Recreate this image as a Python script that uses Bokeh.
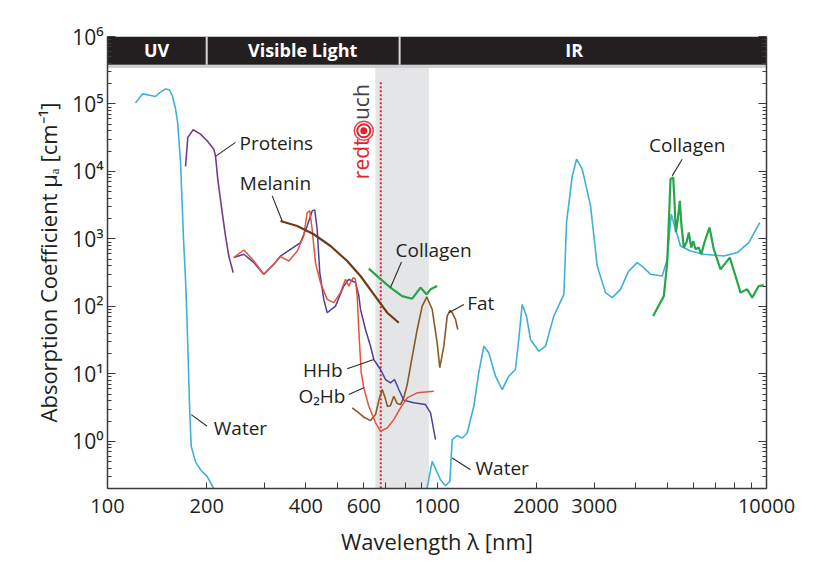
import math
from bokeh.plotting import figure
from bokeh.models import Range1d, FixedTicker, LogAxis, NumeralTickFormatter, CustomJSTickFormatter
from bokeh.embed import file_html
from bokeh.resources import INLINE
from bokeh.core.properties import value

FONT = "Open Sans"
INK = "#231f20"

# ---------------- data (wavelength nm, absorption coefficient cm^-1) ----------------
water_uv_nm = [121.6, 124.2, 127.7, 133.2, 139.8, 144.8, 150.0, 154.3, 157.5, 160.9, 163.2, 166.6,
               170.1, 172.5, 174.3, 176.5, 177.7, 179.5, 184.9, 191.5, 200.6, 211.2]
water_uv_mua = [1.03e5, 1.18e5, 1.41e5, 1.36e5, 1.29e5, 1.50e5, 1.67e5, 1.61e5, 1.31e5, 8.41e4, 5.40e4, 1.37e4,
                988, 252, 64.1, 8.24, 2.67, 0.843, 0.50, 0.38, 0.302, 0.19]

water_ir_nm = [925, 934, 967, 1025, 1061, 1094, 1112, 1152, 1193, 1235, 1293, 1339, 1387, 1436, 1505, 1577,
               1651, 1730, 1771, 1813, 1869, 1922, 2037, 2135, 2262, 2427, 2473, 2573, 2652, 2759, 2924, 3064,
               3246, 3402, 3605, 3812, 4051, 4233, 4445, 4825, 4997, 5138, 5295, 5483, 5881, 6453, 7421, 8150,
               8837, 9539]
water_ir_mua = [0.15, 0.21, 0.505, 0.27, 0.22, 0.255, 1.06, 1.215, 1.12, 1.33, 3.31, 10.4, 25.7, 20.5, 9.23, 5.86,
                9.23, 11.6, 32.4, 107, 71.8, 32.4, 21.7, 25.7, 71.8, 151, 1767, 8603, 1.52e4, 1.08e4, 3085, 396,
                160, 135, 179, 331, 446, 379, 299, 282, 499, 2323, 1391, 786, 662, 592, 558, 627,
                883, 1749]

proteins_nm = [172.5, 175.3, 182.0, 191.5, 200.6, 210.2, 212.7, 216.1, 222.9, 228.1, 233.4, 240.7]
proteins_mua = [1.19e4, 3.20e4, 4.15e4, 3.58e4, 2.85e4, 2.14e4, 1.70e4, 7690, 2460, 1110, 558, 317]

melanin_nm = [335, 376.5, 422.7, 475.1, 533.8, 585.9, 643.1, 706.2, 765.7]
melanin_mua = [1847, 1556, 1172, 786, 471, 282, 151, 80.6, 57.3]

hhb_nm = [241.7, 259.3, 278.0, 298.1, 319.6, 335, 359.3, 385.2, 403.6, 418.0, 425.6, 432.9, 440.8, 453.3,
          464.2, 491.9, 521.3, 539.9, 552.8, 565.7, 578.9, 585.9, 606.7, 628.4, 643.1, 674.0, 697.9, 722.5,
          743.1, 765.7, 793.0, 850.4, 922.7, 956, 989.6]
hhb_mua = [529, 592, 446, 299, 420, 558, 702, 883, 1556, 2600, 2691, 1391, 317, 127,
           80.6, 101, 200, 252, 238, 225, 146, 90.3, 45.5, 25.7, 16.3, 11.6, 8.24, 7.36,
           8.24, 5.86, 4.06, 3.72, 3.51, 2.64, 1.06]

o2hb_nm = [241.7, 259.3, 278.0, 298.1, 319.6, 335, 355.1, 376.5, 394.2, 403.6, 411.0, 418.0, 427.7, 442.9,
           464.2, 486.1, 509.5, 527.6, 539.9, 556.8, 565.7, 572.5, 578.9, 588.8, 599.6, 621, 650.8, 674.0,
           706.2, 739.4, 774.9, 812.1, 870.8, 977.9]
o2hb_mua = [529, 685, 471, 299, 420, 547, 471, 662, 1106, 2462, 2600, 1391, 446, 225,
            127, 113.5, 160, 252, 200, 267, 252, 142, 45.5, 10.5, 6.21, 3.31, 1.88, 1.41,
            1.58, 2.10, 3.13, 4.41, 5.23, 5.53]

collagen_vis_nm = [621, 666, 722.5, 784, 841, 891, 929, 956, 1001]
collagen_vis_mua = [363, 267, 190, 142, 130, 190, 151, 179, 200]

collagen_ir_nm = [4530, 4879, 4997, 5113, 5211, 5258, 5306, 5381, 5456, 5521, 5611, 5718, 5811, 5909, 5992,
                  6089, 6231, 6337, 6484, 6714, 6919, 7252, 7738, 8053, 8339, 8739, 9050, 9472, 9813]
collagen_ir_mua = [71.8, 142, 446, 7686, 8147, 3499, 1255, 1957, 3660, 1556, 744, 892, 1243, 744, 932,
                   702, 744, 592, 892, 1474, 702, 354, 529, 282, 160, 179, 135, 200, 207]

fat_nm = [552.8, 577.7, 602.5, 628.4, 650.8, 666.9, 682.0, 695.5, 707.7, 722.5, 739.4, 757.2, 774.9, 793.0,
          812.1, 831.0, 870.8, 901.7, 931.1, 967, 1001, 1019.8, 1048.7, 1073.9, 1095.1, 1112, 1138, 1156.4]
fat_mua = [3.13, 2.67, 2.25, 2.03, 2.49, 4.16, 5.86, 4.45, 3.27, 3.39, 4.66, 3.63, 3.51, 4.45,
           6.95, 13.0, 45.5, 101, 138, 90.3, 28.9, 12.4, 25.7, 71.8, 87.2, 80.6, 64.1, 45.5]

# spectral bands across the top
band_edges_nm = [100, 200, 770, 10000]
band_names = ["UV", "Visible Light", "IR"]
band_label_nm = [141, 391, 2610]
band_label_mua = 6.3e5
band_bottom = 3.8e5
band_line = 3.6e5

# therapeutic window and laser line
window_nm = [650, 945]
laser_nm = 675
laser_top = 2.2e5

# axes
x_major = [100, 200, 400, 600, 1000, 2000, 3000, 10000]
x_minor = [300, 500, 700, 800, 900, 4000, 5000, 6000, 7000, 8000, 9000]
y_major = [1, 10, 100, 1e3, 1e4, 1e5, 1e6]
y_minor = [m * 10.0 ** e for e in range(-1, 6) for m in range(2, 10)]

# curve labels and leader lines
lab_left_text = ["Proteins", "Melanin", "Collagen", "Fat", "Water", "Water"]
lab_left_nm = [251.6, 252.1, 748.3, 1235, 210.2, 1309]
lab_left_mua = [2.63e4, 6705, 685, 111, 1.58, 0.403]
lab_right_text = ["HHb", "O\u2082Hb"]
lab_right_nm = [516.9, 527.6]
lab_right_mua = [11.6, 4.66]
lab_center_text = ["Collagen"]
lab_center_nm = [5746]
lab_center_mua = [2.46e4]
lead_x0 = [212.7, 316.1, 722.5, 1086, 533.8, 539.9, 179.5, 1112, 5174]
lead_y0 = [1.67e4, 4342, 190, 80.6, 11.9, 4.94, 2.49, 0.567, 8603]
lead_x1 = [244.6, 339.0, 780.3, 1206, 643.1, 599.6, 200.6, 1264, 5548]
lead_y1 = [2.70e4, 1847, 455, 107, 16.3, 6.21, 1.67, 0.380, 1.52e4]

# ---------------- figure ----------------
p = figure(width=832, height=582, x_axis_type="log", y_axis_type="log",
           x_range=Range1d(100, 10000), y_range=Range1d(0.2, 1e6),
           output_backend="svg", toolbar_location=None,
           min_border_left=107, min_border_right=66, min_border_top=36, min_border_bottom=94)
p.outline_line_color = None
p.grid.visible = False
p.background_fill_color = "white"
p.border_fill_color = "white"

# therapeutic window (grey)
p.quad(left=[window_nm[0]], right=[window_nm[1]], bottom=[0.01], top=[band_line],
       fill_color="#e4e5e7", line_color=None)

# top band
p.quad(left=[band_edges_nm[0]], right=[band_edges_nm[-1]], bottom=[band_bottom], top=[1e6],
       fill_color="#231f20", line_color=None)
p.segment(x0=[band_edges_nm[0]], x1=[band_edges_nm[-1]], y0=[band_line], y1=[band_line],
          line_color="#cfcfcf", line_width=3)
p.segment(x0=band_edges_nm[1:3], x1=band_edges_nm[1:3], y0=[band_bottom] * 2, y1=[1e6] * 2,
          line_color="#d8d8d8", line_width=2)
p.text(x=band_label_nm, y=[band_label_mua] * 3, text=band_names, text_color="white",
       text_font=value(FONT), text_font_style="bold", text_font_size="18px",
       text_align="center", text_baseline="middle")

# laser line
p.segment(x0=[laser_nm], x1=[laser_nm], y0=[0.01], y1=[laser_top],
          line_color="#e0262f", line_width=2, line_dash="2 2")

# curves
p.line(water_uv_nm, water_uv_mua, line_color="#3fb0d6", line_width=1.6)
p.line(water_ir_nm, water_ir_mua, line_color="#3fb0d6", line_width=1.6)
p.line(collagen_vis_nm, collagen_vis_mua, line_color="#27a54b", line_width=2.2)
p.line(collagen_ir_nm, collagen_ir_mua, line_color="#27a54b", line_width=2.2)
p.line(proteins_nm, proteins_mua, line_color="#7a3a8c", line_width=1.6)
p.line(fat_nm, fat_mua, line_color="#8a5a26", line_width=1.6)
p.line(hhb_nm, hhb_mua, line_color="#4b3f9c", line_width=1.5)
p.line(o2hb_nm, o2hb_mua, line_color="#e8503c", line_width=1.5)
p.line(melanin_nm, melanin_mua, line_color="#6e3b17", line_width=2.2)

# leader lines and labels
p.segment(x0=lead_x0, y0=lead_y0, x1=lead_x1, y1=lead_y1, line_color="#2b2b2b", line_width=1.1)
p.text(x=lab_left_nm, y=lab_left_mua, text=lab_left_text, text_color=INK, text_font=value(FONT),
       text_font_size="19px", text_align="left", text_baseline="middle")
p.text(x=lab_right_nm, y=lab_right_mua, text=lab_right_text, text_color=INK, text_font=value(FONT),
       text_font_size="19px", text_align="right", text_baseline="middle")
p.text(x=lab_center_nm, y=lab_center_mua, text=lab_center_text, text_color=INK, text_font=value(FONT),
       text_font_size="19px", text_align="center", text_baseline="middle")

# redtouch logo
p.text(x=[588], y=[7690], text=["redt"], angle=math.pi / 2, text_color="#e2222b",
       text_font=value(FONT), text_font_size="21px", text_align="left", text_baseline="middle")
p.text(x=[588], y=[5.78e4], text=["uch"], angle=math.pi / 2, text_color="#404040",
       text_font=value(FONT), text_font_size="21px", text_align="left", text_baseline="middle")
p.scatter(x=[599.6], y=[4.01e4], size=19, fill_color="white", line_color="#e8404a", line_width=1.5)
p.scatter(x=[599.6], y=[4.01e4], size=13, fill_color="white", line_color="#e2222b", line_width=2)
p.scatter(x=[599.6], y=[4.01e4], size=7, fill_color="#e2222b", line_color=None)

AX = "#3a3a3a"

# x axis
xa = p.xaxis[0]
xa.ticker = FixedTicker(ticks=x_major, minor_ticks=x_minor)
xa.formatter = NumeralTickFormatter(format="0")
xa.major_tick_in = 6
xa.major_tick_out = 0
xa.minor_tick_in = 6
xa.minor_tick_out = 0
xa.axis_line_color = AX
xa.axis_line_width = 1.5
xa.major_tick_line_color = AX
xa.minor_tick_line_color = AX
xa.major_label_text_font = FONT
xa.major_label_text_font_size = "20px"
xa.major_label_text_color = INK
xa.major_label_standoff = 10
xa.axis_label = "Wavelength \u03bb [nm]"
xa.axis_label_text_font = FONT
xa.axis_label_text_font_size = "22px"
xa.axis_label_text_font_style = "normal"
xa.axis_label_text_color = INK
xa.axis_label_standoff = 10

# y axis: labels 10^n with superscript exponents
sup_formatter = CustomJSTickFormatter(code="""
const s = ['\u2070','\u00b9','\u00b2','\u00b3','\u2074','\u2075','\u2076','\u2077','\u2078','\u2079'];
const e = Math.round(Math.log10(tick));
return '10' + s[e];
""")
ya = p.yaxis[0]
ya.ticker = FixedTicker(ticks=y_major, minor_ticks=y_minor)
ya.formatter = sup_formatter
ya.major_tick_in = 8
ya.major_tick_out = 0
ya.minor_tick_in = 4
ya.minor_tick_out = 0
ya.axis_line_color = AX
ya.axis_line_width = 1.5
ya.major_tick_line_color = AX
ya.minor_tick_line_color = AX
ya.major_label_text_font = FONT
ya.major_label_text_font_size = "21px"
ya.major_label_text_color = INK
ya.major_label_standoff = 4
ya.major_label_orientation = "horizontal"
ya.axis_label = "Absorption Coefficient \u03bc\u2090 [cm\u207b\u00b9]"
ya.axis_label_text_font = FONT
ya.axis_label_text_font_size = "22px"
ya.axis_label_text_font_style = "normal"
ya.axis_label_text_color = INK
ya.axis_label_standoff = 6

ra = LogAxis(ticker=FixedTicker(ticks=y_major, minor_ticks=y_minor),
             formatter=CustomJSTickFormatter(code="return ''"),
             major_tick_in=8, major_tick_out=0, minor_tick_in=4, minor_tick_out=0,
             axis_line_color=AX, axis_line_width=1.5,
             major_tick_line_color=AX, minor_tick_line_color=AX)
p.add_layout(ra, "right")

open("out.html", "w").write(file_html(p, INLINE))
